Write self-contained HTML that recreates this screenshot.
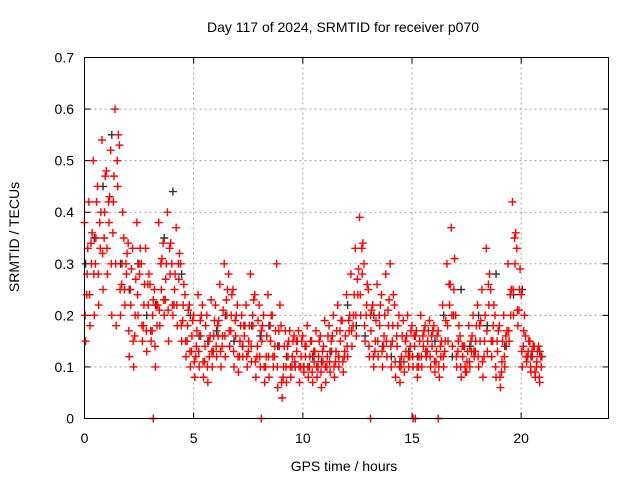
<!DOCTYPE html>
<html><head><meta charset="utf-8"><style>
html,body{margin:0;padding:0;background:#fff;}
svg{display:block;font-family:"Liberation Sans",sans-serif;}
</style></head><body>
<svg id="chart" width="640" height="480" viewBox="0 0 640 480">
<text x="343" y="32" text-anchor="middle" font-size="14">Day 117 of 2024, SRMTID for receiver p070</text>
<text x="344" y="471" text-anchor="middle" font-size="14">GPS time / hours</text>
<text transform="translate(19,237) rotate(-90)" text-anchor="middle" font-size="14">SRMTID / TECUs</text>
<g id="grid"></g>
<g id="ticks"></g>
<g id="black"></g>
<g id="red"></g>
<rect x="84.5" y="57.5" width="524" height="361" fill="none" stroke="#000" stroke-width="1"/>
</svg>
<script>
const xTicks=[0,5,10,15,20];
const yTicks=[0,0.1,0.2,0.3,0.4,0.5,0.6,0.7];
const yTickLabels=["0","0.1","0.2","0.3","0.4","0.5","0.6","0.7"];
const redHi=[0.38,0.42,0.5,0.45,0.54,0.48,0.52,0.6,0.53,0.35,0.34,0.33,0.38,0.3,0.33,0.26,0.25,0.38,0.34,0.4,0.3,0.37,0.3,0.24,0.22,0.2,0.24,0.22,0.2,0.23,0.22,0.26,0.3,0.28,0.25,0.22,0.2,0.22,0.28,0.24,0.22,0.2,0.24,0.2,0.3,0.18,0.17,0.17,0.16,0.17,0.16,0.18,0.15,0.17,0.16,0.19,0.18,0.2,0.22,0.19,0.24,0.28,0.33,0.39,0.3,0.25,0.22,0.26,0.24,0.28,0.3,0.22,0.2,0.19,0.2,0.18,0.17,0.2,0.18,0.19,0.18,0.17,0.22,0.3,0.37,0.2,0.16,0.14,0.18,0.2,0.22,0.25,0.33,0.25,0.2,0.18,0.2,0.3,0.42,0.33,0.24,0.16,0.15,0.14,0.14];
const redLo=[0.15,0.18,0.2,0.22,0.25,0.28,0.2,0.18,0.2,0.22,0.12,0.1,0.2,0.15,0.13,0.15,0.1,0.18,0.2,0.15,0.2,0.18,0.15,0.12,0.1,0.08,0.1,0.08,0.07,0.1,0.12,0.1,0.12,0.14,0.1,0.09,0.12,0.1,0.11,0.08,0.1,0.07,0.08,0.1,0.06,0.04,0.07,0.08,0.1,0.07,0.09,0.08,0.07,0.08,0.06,0.07,0.09,0.08,0.1,0.09,0.12,0.14,0.16,0.2,0.15,0.12,0.1,0.12,0.1,0.12,0.1,0.08,0.07,0.09,0.1,0.1,0.08,0.1,0.12,0.1,0.09,0.08,0.1,0.15,0.14,0.1,0.08,0.09,0.1,0.12,0.1,0.08,0.13,0.12,0.08,0.06,0.1,0.15,0.2,0.18,0.1,0.11,0.09,0.08,0.07];
const redMid=[0.28,0.3,0.35,0.33,0.4,0.38,0.42,0.45,0.3,0.28,0.22,0.2,0.28,0.22,0.22,0.2,0.18,0.25,0.27,0.28,0.25,0.27,0.22,0.18,0.16,0.14,0.16,0.14,0.12,0.16,0.16,0.16,0.2,0.2,0.16,0.15,0.16,0.15,0.18,0.14,0.15,0.12,0.15,0.14,0.14,0.1,0.12,0.12,0.13,0.12,0.12,0.12,0.11,0.12,0.11,0.12,0.13,0.13,0.15,0.13,0.17,0.2,0.24,0.28,0.22,0.17,0.15,0.18,0.16,0.18,0.18,0.14,0.12,0.13,0.14,0.14,0.12,0.14,0.15,0.14,0.13,0.12,0.15,0.22,0.25,0.15,0.12,0.11,0.13,0.15,0.15,0.15,0.22,0.18,0.13,0.11,0.14,0.2,0.3,0.25,0.17,0.13,0.12,0.11,0.1];
const redMid2=[0.24,0.34,0.3,0.38,0.35,0.42,0.36,0.5,0.26,0.3,0.25,0.16,0.3,0.18,0.26,0.17,0.22,0.3,0.23,0.33,0.22,0.3,0.19,0.15,0.13,0.12,0.19,0.11,0.15,0.13,0.18,0.14,0.23,0.17,0.19,0.12,0.18,0.13,0.2,0.12,0.17,0.1,0.18,0.12,0.17,0.08,0.14,0.1,0.15,0.1,0.14,0.1,0.13,0.1,0.13,0.1,0.15,0.11,0.17,0.12,0.19,0.18,0.27,0.33,0.2,0.2,0.13,0.2,0.14,0.21,0.15,0.16,0.1,0.15,0.12,0.16,0.1,0.16,0.13,0.16,0.11,0.14,0.13,0.26,0.2,0.13,0.14,0.09,0.15,0.13,0.18,0.12,0.26,0.15,0.15,0.09,0.16,0.24,0.35,0.21,0.14,0.12,0.13,0.1,0.12];
const redQ3=[0.33,0.36,0.42,0.4,0.47,0.43,0.47,0.55,0.4,0.32,0.29,0.27,0.33,0.26,0.28,0.23,0.22,0.31,0.3,0.34,0.28,0.32,0.26,0.21,0.19,0.17,0.2,0.18,0.16,0.19,0.19,0.21,0.25,0.24,0.2,0.18,0.18,0.18,0.23,0.19,0.18,0.16,0.2,0.17,0.22,0.14,0.15,0.15,0.15,0.15,0.14,0.15,0.13,0.15,0.14,0.16,0.16,0.17,0.19,0.16,0.2,0.24,0.29,0.34,0.26,0.21,0.19,0.22,0.2,0.23,0.24,0.18,0.16,0.16,0.17,0.16,0.15,0.17,0.17,0.17,0.16,0.15,0.19,0.26,0.31,0.18,0.14,0.13,0.16,0.18,0.19,0.2,0.28,0.22,0.17,0.15,0.17,0.25,0.36,0.29,0.2,0.15,0.14,0.13,0.12];
const redQ1=[0.2,0.24,0.28,0.28,0.32,0.33,0.3,0.3,0.25,0.25,0.17,0.15,0.24,0.18,0.17,0.17,0.14,0.21,0.23,0.21,0.22,0.22,0.18,0.15,0.13,0.11,0.13,0.11,0.1,0.13,0.14,0.13,0.16,0.17,0.13,0.12,0.14,0.12,0.14,0.11,0.12,0.1,0.12,0.12,0.1,0.07,0.1,0.1,0.11,0.1,0.1,0.1,0.09,0.1,0.09,0.1,0.11,0.1,0.12,0.11,0.14,0.17,0.2,0.24,0.18,0.14,0.12,0.15,0.13,0.15,0.14,0.11,0.1,0.11,0.12,0.12,0.1,0.12,0.13,0.12,0.11,0.1,0.12,0.18,0.2,0.12,0.1,0.1,0.11,0.13,0.12,0.11,0.17,0.15,0.1,0.08,0.12,0.17,0.25,0.21,0.13,0.12,0.1,0.09,0.08];
const blackVals=[0.3,0.35,0.45,0.55,0.3,0.25,0.3,0.2,0.22,0.35,0.44,0.28,0.2,0.16,0.15,0.17,0.2,0.15,0.14,0.18,0.16,0.18,0.14,0.12,0.1,0.1,0.12,0.11,0.13,0.12,0.22,0.18,0.16,0.2,0.14,0.12,0.11,0.13,0.12,0.12,0.15,0.2,0.12,0.25,0.14,0.2,0.18,0.28,0.14,0.24,0.25,0.12,0.13];
const zeroTimes=[3.15,8.1,13.1,15.05,15.15,16.2];

const X0=84.5,X1=608.5,Y0=418.5,Y1=57.5;
function xs(t){return X0+(t/24)*(X1-X0);}
function ys(v){return Y0-(v/0.7)*(Y0-Y1);}
const NS="http://www.w3.org/2000/svg";
const grid=document.getElementById('grid'),ticks=document.getElementById('ticks');
function mk(tag,attrs,parent){const e=document.createElementNS(NS,tag);for(const k in attrs)e.setAttribute(k,attrs[k]);parent.appendChild(e);return e;}
xTicks.forEach(t=>{
  const x=xs(t);
  if(t>0){const g=mk('line',{x1:x,x2:x,y1:Y1,y2:Y0,stroke:'#a0a0a0','stroke-dasharray':'2,3'},grid);
  
  }
  const tk=mk('line',{x1:x,x2:x,y1:Y0,y2:Y0-6,stroke:'#000'},ticks);
  
  
  mk('line',{x1:x,x2:x,y1:Y1,y2:Y1+6,stroke:'#000'},ticks);
  const lb=mk('text',{x:x,y:443,'text-anchor':'middle','font-size':'14'},ticks);lb.textContent=String(t);
  
  
});
yTicks.forEach((v,i)=>{
  const y=ys(v);
  if(i>0&&i<yTicks.length-1){const g=mk('line',{x1:X0,x2:X1,y1:y,y2:y,stroke:'#a0a0a0','stroke-dasharray':'2,3'},grid);
  
  }
  const tk=mk('line',{x1:X0,x2:X0+6,y1:y,y2:y,stroke:'#000'},ticks);
  
  
  mk('line',{x1:X1,x2:X1-6,y1:y,y2:y,stroke:'#000'},ticks);
  const lb=mk('text',{x:74,y:y+5,'text-anchor':'end','font-size':'14'},ticks);lb.textContent=yTickLabels[i];
  
  
});
function plus(t,v,color,parent){
  const x=xs(t),y=ys(v);
  const p=mk('path',{d:`M${x-4} ${y}H${x+4}M${x} ${y-4}V${y+4}`,stroke:color,'stroke-width':'1.4',fill:'none'},parent);
  
  
}
const bg=document.getElementById('black'),rg=document.getElementById('red');
blackVals.forEach((v,i)=>plus(i*0.4+0.05,v,'#303030',bg));
redHi.forEach((v,i)=>plus(i*0.2,v,'#ff0000',rg));
redLo.forEach((v,i)=>plus(i*0.2+0.05,v,'#ff0000',rg));
redMid.forEach((v,i)=>plus(i*0.2+0.12,v,'#ff0000',rg));
redMid2.forEach((v,i)=>plus(i*0.2+0.1,v,'#ff0000',rg));
redQ3.forEach((v,i)=>plus(i*0.2+0.15,v,'#ff0000',rg));
redQ1.forEach((v,i)=>plus(i*0.2+0.03,v,'#ff0000',rg));
zeroTimes.forEach(t=>plus(t,0,'#ff0000',rg));
</script>
</body></html>
